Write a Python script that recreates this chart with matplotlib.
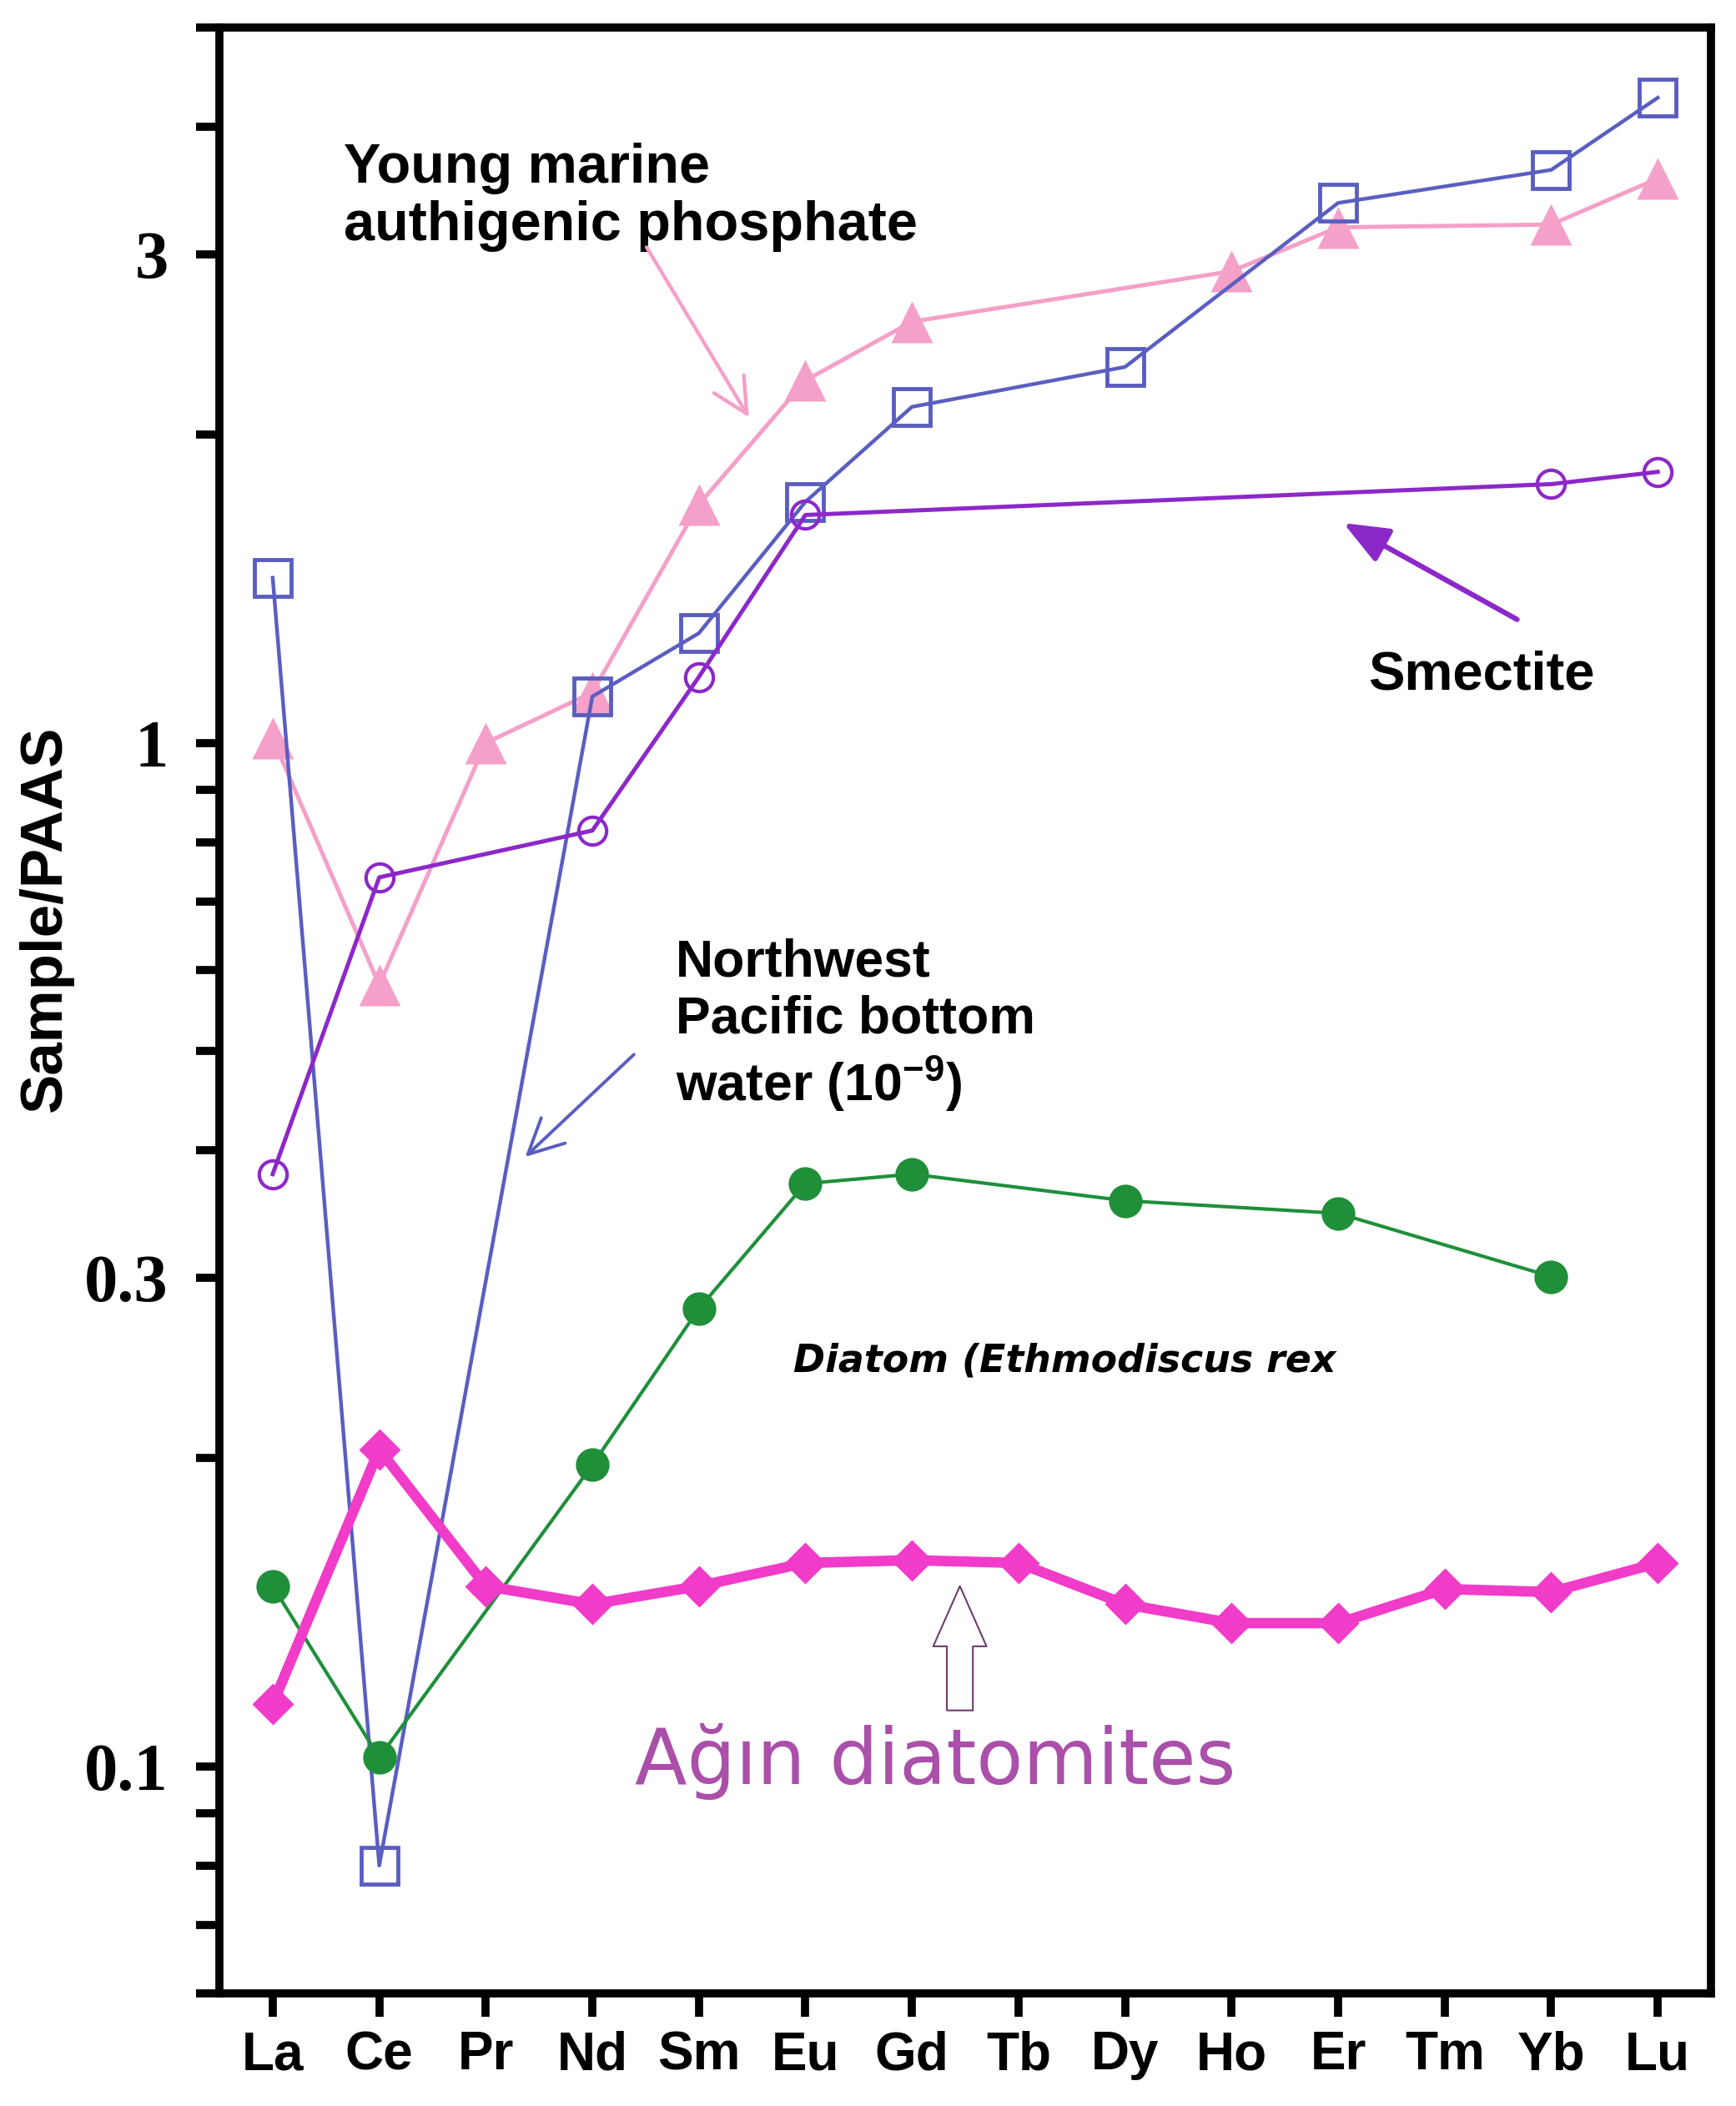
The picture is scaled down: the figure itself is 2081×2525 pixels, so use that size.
import numpy as np
import matplotlib
matplotlib.use('Agg')
import matplotlib.pyplot as plt
from matplotlib.ticker import FixedLocator, NullFormatter

# PAAS normalised REE patterns
elements = ['La', 'Ce', 'Pr', 'Nd', 'Sm', 'Eu', 'Gd', 'Tb', 'Dy', 'Ho', 'Er', 'Tm', 'Yb', 'Lu']

# Northwest Pacific bottom water (x 1e-9)
nwp_el = ['La', 'Ce', 'Nd', 'Sm', 'Eu', 'Gd', 'Dy', 'Er', 'Yb', 'Lu']
nwp_val = [1.45, 0.080, 1.11, 1.28, 1.72, 2.13, 2.33, 3.37, 3.63, 4.27]

# young marine authigenic phosphate
phos_el = ['La', 'Ce', 'Pr', 'Nd', 'Sm', 'Eu', 'Gd', 'Ho', 'Er', 'Yb', 'Lu']
phos_val = [1.01, 0.58, 1.00, 1.12, 1.71, 2.26, 2.58, 2.89, 3.19, 3.21, 3.56]

# smectite
smec_el = ['La', 'Ce', 'Nd', 'Sm', 'Eu', 'Yb', 'Lu']
smec_val = [0.379, 0.739, 0.821, 1.16, 1.67, 1.79, 1.84]

# diatom (Ethmodiscus rex)
diat_el = ['La', 'Ce', 'Nd', 'Sm', 'Eu', 'Gd', 'Dy', 'Er', 'Yb']
diat_val = [0.150, 0.102, 0.197, 0.280, 0.371, 0.379, 0.357, 0.347, 0.301]

# Agin diatomites (all 14 REE)
agin_val = [0.115, 0.204, 0.150, 0.144, 0.150, 0.158, 0.159, 0.158,
            0.144, 0.138, 0.138, 0.149, 0.148, 0.158]

major_ticks = [0.1, 0.3, 1, 3]
major_labels = ['0.1', '0.3', '1', '3']
minor_ticks = [0.06, 0.07, 0.08, 0.09, 0.2, 0.4, 0.5, 0.6, 0.7, 0.8, 0.9, 2, 4, 5]

pos = {el: i for i, el in enumerate(elements)}
def xs(els):
    return [pos[e] for e in els]

SANS = 'Liberation Sans'

fig = plt.figure(figsize=(20.81, 25.25), dpi=100)
ax = fig.add_axes([0.1264, 0.0535, 0.8592, 0.9334])

ax.plot(xs(phos_el), phos_val, color='#f4a0c8', lw=3.6, marker='^', ms=36,
        mec='none', mfc='#f4a0c8', zorder=3)
ax.plot(xs(nwp_el), nwp_val, color='#5a5ec0', lw=3.2, marker='s', ms=31,
        mfc='none', mec='#5a5ec0', mew=3.5, zorder=4)
ax.plot(xs(smec_el), smec_val, color='#8c28c8', lw=3.6, marker='o', ms=24,
        mfc='none', mec='#8c28c8', mew=3, zorder=5)
ax.plot(xs(diat_el), diat_val, color='#1f8f3a', lw=3, marker='o', ms=29,
        mfc='#1f8f3a', mec='none', zorder=5)
ax.plot(range(len(elements)), agin_val, color='#f03cc8', lw=9, marker='D', ms=25,
        mfc='#f03cc8', mec='none', zorder=6)

ax.set_yscale('log')
ax.set_ylim(0.06, 5)
ax.set_xlim(-0.5, 13.5)

ax.yaxis.set_major_locator(FixedLocator(major_ticks))
ax.yaxis.set_minor_locator(FixedLocator(minor_ticks))
ax.yaxis.set_minor_formatter(NullFormatter())
ax.set_yticks(major_ticks, major_labels, fontfamily='Liberation Serif',
              fontweight='bold', fontsize=58)
ax.set_xticks(range(len(elements)), elements, fontfamily=SANS,
              fontweight='bold', fontsize=46)

ax.tick_params(axis='both', which='both', direction='out', length=20, width=7,
               color='black')
ax.tick_params(axis='y', which='both', pad=24)
ax.tick_params(axis='x', pad=12)
for sp in ax.spines.values():
    sp.set_linewidth(7)
    sp.set_color('black')

fig.text(0.0264, 0.564, 'Sample/PAAS', rotation=90, ha='center', va='center',
         fontfamily=SANS, fontweight='bold', fontsize=51)

# annotations (va='baseline' -> baseline of the last line)
ax.text(0.67, 3.10, 'Young marine\nauthigenic phosphate', fontfamily=SANS,
        fontweight='bold', fontsize=48, va='baseline', ha='left', linespacing=1.15)
ax.text(3.78, 0.447, 'Northwest\nPacific bottom\nwater (10$^{\\mathregular{-9}}$)',
        fontfamily=SANS, fontweight='bold', fontsize=45, va='baseline', ha='left',
        linespacing=1.2)
ax.text(10.28, 1.127, 'Smectite', fontfamily=SANS, fontweight='bold',
        fontsize=47, va='baseline', ha='left')
ax.text(4.89, 0.243, 'Diatom (Ethmodiscus rex', fontfamily='DejaVu Sans',
        fontweight='bold', fontstyle='italic', fontsize=33, va='baseline', ha='left')
ax.text(3.40, 0.096, 'Ağın diatomites', fontfamily='DejaVu Sans',
        fontsize=66, color='#aa4faa', va='baseline', ha='left')

ax.annotate('', xy=(4.47, 2.08), xytext=(3.51, 3.05),
            arrowprops=dict(arrowstyle='->,head_length=1.0,head_width=0.5',
                            color='#f4a0c8', lw=3.2, mutation_scale=30,
                            shrinkA=0, shrinkB=0))
ax.annotate('', xy=(2.37, 0.394), xytext=(3.39, 0.496),
            arrowprops=dict(arrowstyle='->,head_length=1.0,head_width=0.5',
                            color='#5a5ec0', lw=2.8, mutation_scale=30,
                            shrinkA=0, shrinkB=0))
ax.annotate('', xy=(10.05, 1.64), xytext=(11.68, 1.32),
            arrowprops=dict(arrowstyle='-|>,head_length=1.1,head_width=0.45',
                            color='#8c28c8', lw=4.5, mutation_scale=30,
                            shrinkA=0, shrinkB=0))
ax.annotate('', xy=(6.45, 0.150), xytext=(6.45, 0.1134),
            arrowprops=dict(arrowstyle='simple,head_length=2.6,head_width=2.3,tail_width=1.12',
                            fc='white', ec='#6e3c6e', lw=1.5, mutation_scale=20,
                            shrinkA=0, shrinkB=0))

fig.savefig('out.png', dpi=100, facecolor='white')
